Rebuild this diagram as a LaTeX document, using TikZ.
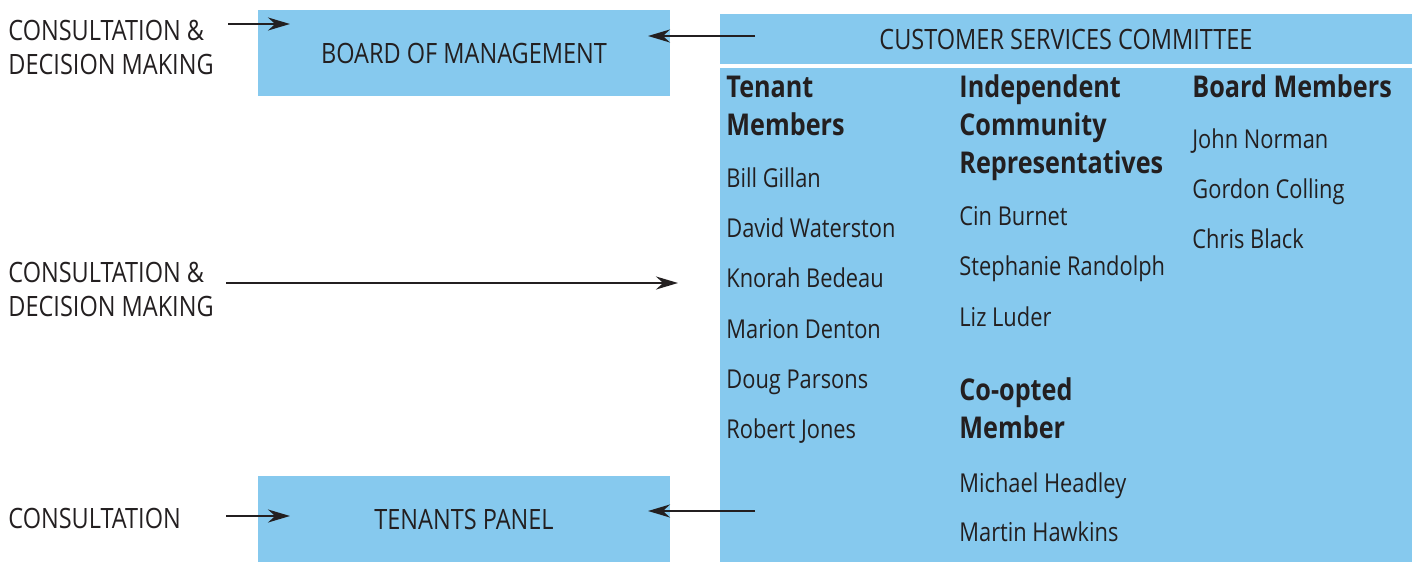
\documentclass[tikz,border=0pt]{standalone}
\usepackage{fontspec}
\setmainfont[FakeStretch=0.84]{Open Sans}
\usetikzlibrary{arrows.meta}
\definecolor{panelblue}{RGB}{134,201,238}
\definecolor{inkgray}{RGB}{35,31,32}

\begin{document}
\begin{tikzpicture}[x=0.5pt,y=-0.5pt,
    panel/.style={fill=panelblue,draw=none,inner sep=0pt,text=inkgray,
      font=\fontsize{14}{16}\selectfont},
    side/.style={anchor=base west,inner sep=0pt,text=inkgray,
      font=\fontsize{14}{16}\selectfont},
    colhead/.style={anchor=base west,inner sep=0pt,text=inkgray,
      font=\fontsize{15}{17}\selectfont\bfseries},
    member/.style={anchor=base west,inner sep=0pt,text=inkgray,
      font=\fontsize{13}{15}\selectfont},
    flow/.style={draw=inkgray,line width=1.2pt,-{Stealth[length=11pt,width=6.5pt]}}]
  \useasboundingbox (0,0) rectangle (1414,562);

  % boxes
  \node[panel,minimum width=206pt,minimum height=43pt] (bom) at (464,53) {BOARD OF MANAGEMENT};
  \node[panel,minimum width=206pt,minimum height=43pt] (tp) at (464,519) {TENANTS PANEL};
  \node[panel,minimum width=346pt,minimum height=25pt] (csc) at (1066,39) {CUSTOMER SERVICES COMMITTEE};
  \node[panel,minimum width=346pt,minimum height=247pt] (body) at (1066,315) {};

  % side labels
  \draw
    (8,40) node[side] (s1a){CONSULTATION \&}
    (8,74) node[side] (s1b){DECISION MAKING}
    (8,282) node[side] (s2a){CONSULTATION \&}
    (8,316) node[side] (s2b){DECISION MAKING}
    (8,528) node[side] (s3){CONSULTATION};

  % tenant members
  \draw
    (726,97) node[colhead] (h1a){Tenant}
    (726,135) node[colhead] (h1b){Members}
    (726,187) node[member] (t1){Bill Gillan}
    (726,237) node[member] (t2){David Waterston}
    (726,287) node[member] (t3){Knorah Bedeau}
    (726,338) node[member] (t4){Marion Denton}
    (726,388) node[member] (t5){Doug Parsons}
    (726,438) node[member] (t6){Robert Jones};

  % independent community representatives
  \draw
    (959,97) node[colhead] (h2a){Independent}
    (959,135) node[colhead] (h2b){Community}
    (959,173) node[colhead] (h2c){Representatives}
    (959,225) node[member] (r1){Cin Burnet}
    (959,275) node[member] (r2){Stephanie Randolph}
    (959,326) node[member] (r3){Liz Luder}
    (959,400) node[colhead] (h4a){Co-opted}
    (959,438) node[colhead] (h4b){Member}
    (959,492) node[member] (c1){Michael Headley}
    (959,541) node[member] (c2){Martin Hawkins};

  % board members
  \draw
    (1192,97) node[colhead] (h3){Board Members}
    (1192,148) node[member] (b1){John Norman}
    (1192,198) node[member] (b2){Gordon Colling}
    (1192,248) node[member] (b3){Chris Black};

  % arrow ends
  \coordinate (a1) at (228,24);
  \coordinate (a1e) at (290,24);
  \coordinate (a2) at (226,283);
  \coordinate (a2e) at (678,283);
  \coordinate (a3) at (226,516);
  \coordinate (a3e) at (290,516);
  \coordinate (r1s) at (755,36);
  \coordinate (r1e) at (648,36);
  \coordinate (r2s) at (755,511);
  \coordinate (r2e) at (648,511);

  \begin{scope}[flow]
    \draw (a1) to (a1e);
    \draw (a2) to (a2e);
    \draw (a3) to (a3e);
    \draw (r1s) to (r1e);
    \draw (r2s) to (r2e);
  \end{scope}
\end{tikzpicture}
\end{document}
